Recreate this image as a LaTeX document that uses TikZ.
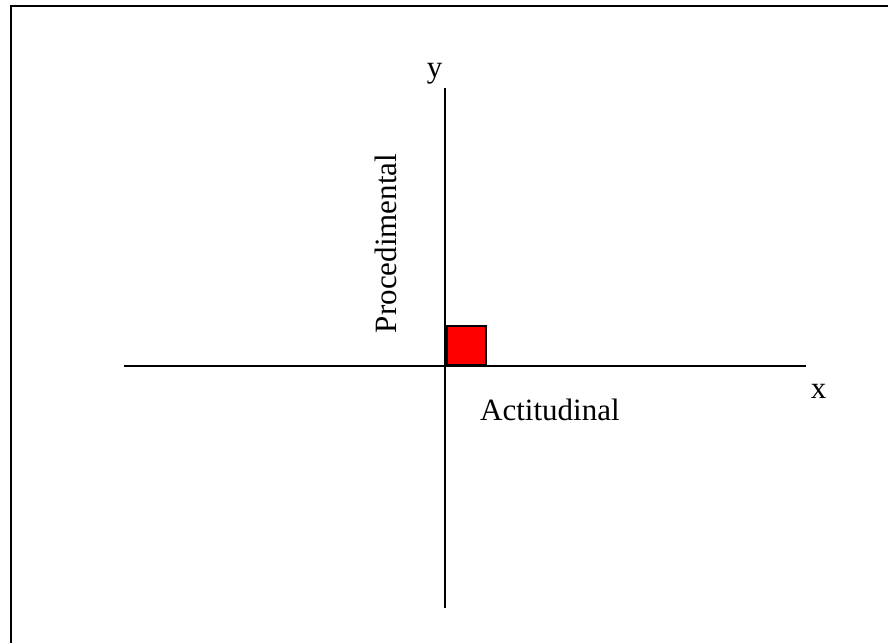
\documentclass[tikz,border=0pt]{standalone}
\usepackage{fontspec}
\setmainfont{Liberation Serif}
\begin{document}
\begin{tikzpicture}[x=1pt,y=-1pt,
  axis/.style={line width=2pt,black},
  frameline/.style={line width=2.2pt,black},
  lbl/.style={inner sep=0pt,font=\fontsize{31}{36}\selectfont}]
\useasboundingbox (0,0) rectangle (888,643);
\fill[white] (0,0) rectangle (888,643);
% frame (top and left edges only)
\coordinate (ftl) at (11,6);
\coordinate (ftr) at (888,6);
\coordinate (fbl) at (11,643);
\draw[frameline] (ftr) -- (ftl) -- (fbl);
% axes
\coordinate (xl) at (124,366);
\coordinate (xr) at (806,366);
\coordinate (yt) at (445,88);
\coordinate (yb) at (445,608);
\draw[axis] (xl) -- (xr);
\draw[axis] (yt) -- (yb);
% red square
\node[draw=black,line width=1.6pt,fill=red,minimum width=39pt,minimum height=39pt,inner sep=0pt,anchor=south west] (sq) at (446,366) {};
% labels
\node[lbl,anchor=base] (ylab) at (434.5,77) {y};
\node[lbl,anchor=base] (xlab) at (818.5,398) {x};
\node[lbl,anchor=base west] (act) at (480,420) {Actitudinal};
\node[lbl,rotate=90,anchor=base] (proc) at (396,243.5) {Procedimental};
\end{tikzpicture}
\end{document}
